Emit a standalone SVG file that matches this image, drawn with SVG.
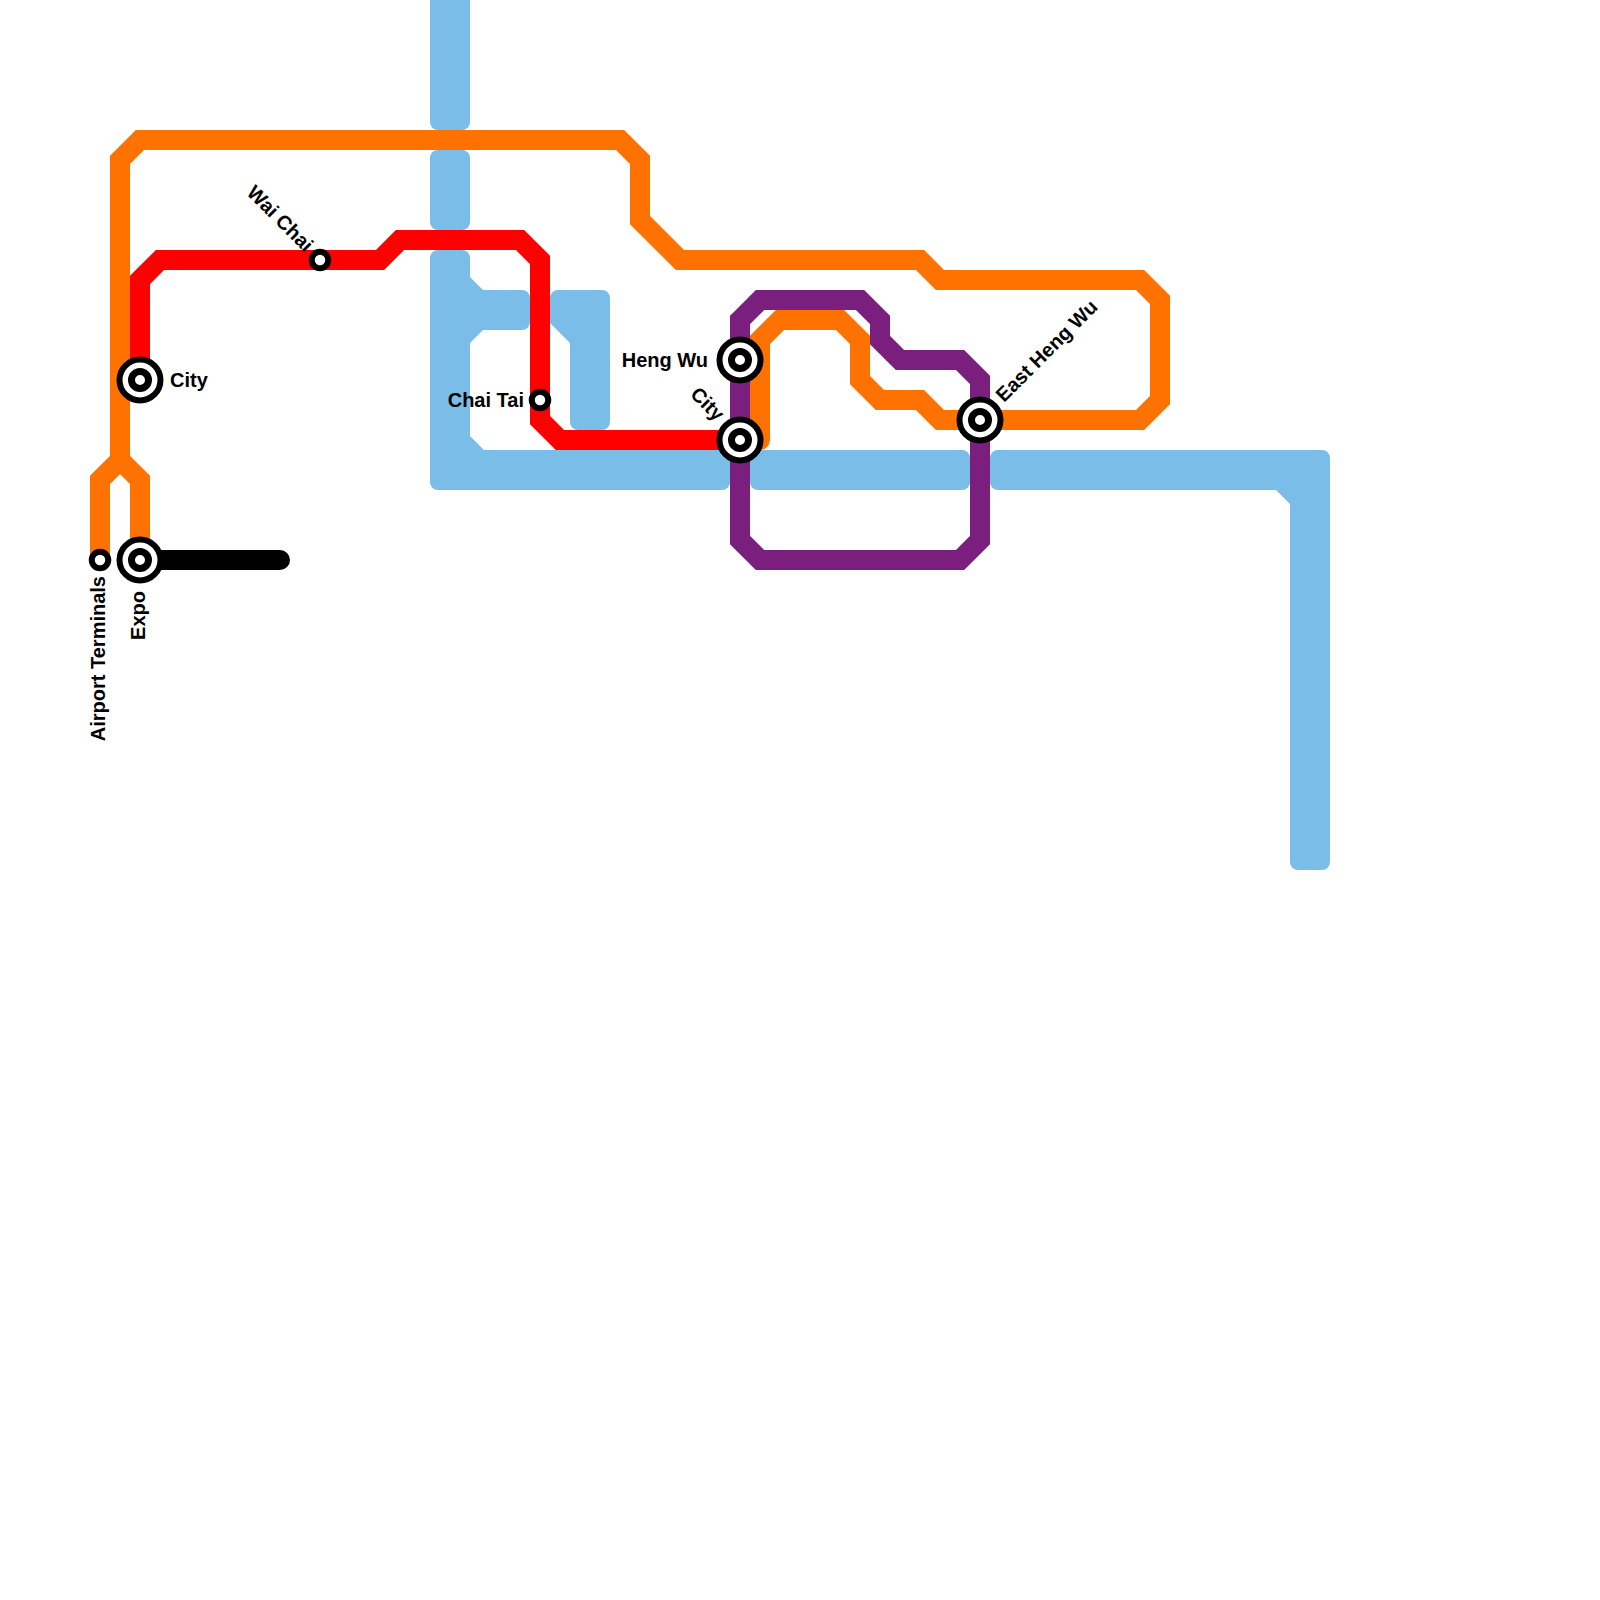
<svg xmlns="http://www.w3.org/2000/svg" width="1600" height="1600" viewBox="0 0 1600 1600">
<style>
.water{fill:#79bde8;stroke:none}
.ln{fill:none;stroke-width:20;stroke-linejoin:miter;stroke-linecap:round}
.orange{stroke:#ff7200}
.red{stroke:#ff0000}
.purple{stroke:#7a1f7e}
.black{stroke:#000000}
.st{fill:#ffffff;stroke:#000000;stroke-width:6}
.xo{fill:#ffffff;stroke:#000000;stroke-width:6}
.xi{fill:#ffffff;stroke:#000000;stroke-width:7}
.lbl{font-family:"Liberation Sans",Arial,sans-serif;font-weight:bold;font-size:20px;fill:#000000}
</style>
<rect x="0" y="0" width="1600" height="1600" fill="#ffffff"/>
<g id="connectors">
  <g id="blue-line">
    <rect class="water" x="430" y="-20" width="40" height="150" rx="8"/>
    <rect class="water" x="430" y="150" width="40" height="80" rx="8"/>
    <path class="water" d="M438,250 H462 A8,8 0 0 1 470,258 V277 L483,290 H522 A8,8 0 0 1 530,298 V322 A8,8 0 0 1 522,330 H483 L470,343 V436 L484,450 H722 A8,8 0 0 1 730,458 V482 A8,8 0 0 1 722,490 H438 A8,8 0 0 1 430,482 V258 A8,8 0 0 1 438,250 Z"/>
    <path class="water" d="M558,290 H602 A8,8 0 0 1 610,298 V422 A8,8 0 0 1 602,430 H578 A8,8 0 0 1 570,422 V343 L550,323 V298 A8,8 0 0 1 558,290 Z"/>
    <rect class="water" x="750" y="450" width="220" height="40" rx="8"/>
    <path class="water" d="M998,450 H1322 A8,8 0 0 1 1330,458 V862 A8,8 0 0 1 1322,870 H1298 A8,8 0 0 1 1290,862 V504 L1276,490 H998 A8,8 0 0 1 990,482 V458 A8,8 0 0 1 998,450 Z"/>
  </g>
  <path id="orange-line" class="ln orange" d="M100,560 V480 L120,460 V160 L140,140 H620 L640,160 V220 L680,260 H920 L940,280 H1140 L1160,300 V400 L1140,420 H940 L920,400 H880 L860,380 V340 L840,320 H780 L760,340 V440"/>
  <path id="orange-branch" class="ln orange" d="M120,460 L140,480 V560"/>
  <path id="red-line" class="ln red" d="M140,380 V280 L160,260 H380 L400,240 H520 L540,260 V420 L560,440 H740"/>
  <path id="purple-line" class="ln purple" d="M740,320 L760,300 H860 L880,320 V340 L900,360 H960 L980,380 V540 L960,560 H760 L740,540 Z"/>
  <path id="black-line" class="ln black" d="M140,560 H280"/>
</g>
<g id="station-city-west">
  <circle class="xo" cx="140" cy="380" r="20.5"/>
  <circle class="xi" cx="140" cy="380" r="8.5"/>
  <text class="lbl" x="170" y="387">City</text>
</g>
<g id="station-wai-chai">
  <circle class="st" cx="320" cy="260" r="8.25"/>
  <text class="lbl" text-anchor="end" transform="translate(305,253) rotate(45)">Wai Chai</text>
</g>
<g id="station-chai-tai">
  <circle class="st" cx="540" cy="400" r="8.25"/>
  <text class="lbl" text-anchor="end" x="524" y="407">Chai Tai</text>
</g>
<g id="station-heng-wu">
  <circle class="xo" cx="740" cy="360" r="20.5"/>
  <circle class="xi" cx="740" cy="360" r="8.5"/>
  <text class="lbl" text-anchor="end" x="708" y="367">Heng Wu</text>
</g>
<g id="station-city-east">
  <circle class="xo" cx="740" cy="440" r="20.5"/>
  <circle class="xi" cx="740" cy="440" r="8.5"/>
  <text class="lbl" text-anchor="end" transform="translate(716,422) rotate(45)">City</text>
</g>
<g id="station-east-heng-wu">
  <circle class="xo" cx="980" cy="420" r="20.5"/>
  <circle class="xi" cx="980" cy="420" r="8.5"/>
  <text class="lbl" transform="translate(1004,403) rotate(-45)">East Heng Wu</text>
</g>
<g id="station-airport-terminals">
  <circle class="st" cx="100" cy="560" r="8.25"/>
  <text class="lbl" text-anchor="end" transform="translate(105,576) rotate(-90)">Airport Terminals</text>
</g>
<g id="station-expo">
  <circle class="xo" cx="140" cy="560" r="20.5"/>
  <circle class="xi" cx="140" cy="560" r="8.5"/>
  <text class="lbl" text-anchor="end" transform="translate(145,591) rotate(-90)">Expo</text>
</g>
</svg>
